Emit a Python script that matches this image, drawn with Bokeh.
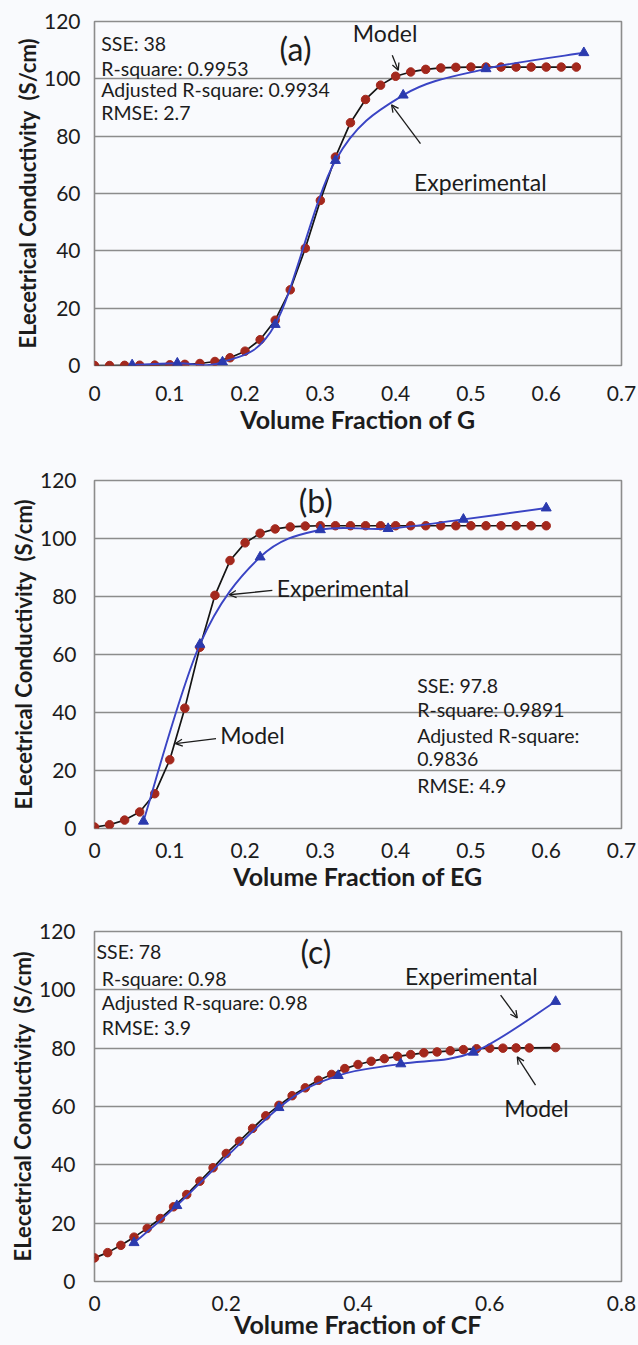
from bokeh.plotting import figure
from bokeh.layouts import column
from bokeh.models import Range1d, FixedTicker, CustomJSTickFormatter, Label, Arrow, OpenHead
from bokeh.embed import file_html
from bokeh.resources import INLINE

# ---------------- data ----------------
y_ticks = [0, 20, 40, 60, 80, 100, 120]
y_tick_labels = ["0", "20", "40", "60", "80", "100", "120"]
x_ticks_ab = [0, 0.1, 0.2, 0.3, 0.4, 0.5, 0.6, 0.7]
x_tick_labels_ab = ["0", "0.1", "0.2", "0.3", "0.4", "0.5", "0.6", "0.7"]
x_ticks_c = [0, 0.2, 0.4, 0.6, 0.8]
x_tick_labels_c = ["0", "0.2", "0.4", "0.6", "0.8"]

# panel (a)  Volume fraction of G
a_model_x = [0.00, 0.02, 0.04, 0.06, 0.08, 0.10, 0.12, 0.14, 0.16, 0.18,
             0.20, 0.22, 0.24, 0.26, 0.28, 0.30, 0.32, 0.34, 0.36, 0.38,
             0.40, 0.42, 0.44, 0.46, 0.48, 0.50, 0.52, 0.54, 0.56, 0.58,
             0.60, 0.62, 0.64]
a_model_y = [0, 0, 0.05, 0.1, 0.15, 0.25, 0.4, 0.7, 1.4, 2.7,
             5.0, 9.0, 15.8, 26.4, 40.9, 57.6, 72.7, 84.7, 92.8, 97.8,
             100.9, 102.4, 103.3, 103.8, 104.0, 104.1, 104.1, 104.1, 104.1, 104.1,
             104.1, 104.1, 104.1]
a_exp_x = [0.05, 0.11, 0.17, 0.24, 0.32, 0.41, 0.52, 0.65]
a_exp_y = [0.2, 0.8, 1.2, 14.3, 71.5, 94.3, 103.5, 109.1]

# panel (b)  Volume fraction of EG
b_model_x = [0.00, 0.02, 0.04, 0.06, 0.08, 0.10, 0.12, 0.14, 0.16, 0.18,
             0.20, 0.22, 0.24, 0.26, 0.28, 0.30, 0.32, 0.34, 0.36, 0.38,
             0.40, 0.42, 0.44, 0.46, 0.48, 0.50, 0.52, 0.54, 0.56, 0.58,
             0.60]
b_model_y = [0.5, 1.3, 2.9, 5.7, 12.0, 23.7, 41.5, 62.5, 80.4, 92.4,
             98.5, 101.8, 103.3, 104.0, 104.3, 104.4, 104.4, 104.4, 104.4, 104.4,
             104.4, 104.4, 104.4, 104.4, 104.4, 104.4, 104.4, 104.4, 104.4, 104.4,
             104.4]
b_exp_x = [0.065, 0.14, 0.22, 0.30, 0.39, 0.49, 0.60]
b_exp_y = [2.5, 63.5, 93.6, 103.0, 103.4, 106.6, 110.5]

# panel (c)  Volume fraction of CF
c_model_x = [0.00, 0.02, 0.04, 0.06, 0.08, 0.10, 0.12, 0.14, 0.16, 0.18,
             0.20, 0.22, 0.24, 0.26, 0.28, 0.30, 0.32, 0.34, 0.36, 0.38,
             0.40, 0.42, 0.44, 0.46, 0.48, 0.50, 0.52, 0.54, 0.56, 0.58,
             0.60, 0.62, 0.64, 0.66, 0.70]
c_model_y = [8.1, 9.9, 12.4, 15.2, 18.2, 21.6, 25.6, 29.8, 34.4, 39.0,
             43.9, 48.1, 52.5, 56.8, 60.4, 63.7, 66.4, 69.0, 71.0, 73.0,
             74.4, 75.5, 76.4, 77.2, 77.8, 78.4, 78.7, 79.1, 79.5, 79.8,
             80.0, 80.0, 80.1, 80.1, 80.2]
c_exp_x = [0.06, 0.125, 0.28, 0.37, 0.465, 0.575, 0.70]
c_exp_y = [13.3, 26.0, 59.6, 70.6, 74.6, 78.6, 96.0]

# ---------------- style ----------------
FONT = "Lato"
BG = "#f9fafd"
GRID = "#8c8c8c"
RED = "#a3281d"
BLUE = "#3a44c4"
TRI = "#2b3aae"
INK = "#1c1c1c"
YTITLE = "ELecetrical Conductivity\u00a0 (S/cm)"


def formatter(vals, labs):
    return CustomJSTickFormatter(args=dict(vals=vals, labs=labs), code="""
        for (let i = 0; i < vals.length; i++) {
            if (Math.abs(vals[i] - tick) < 1e-9) { return labs[i]; }
        }
        return '';
    """)


def smooth_line(p, xs, ys, color, width):
    # Excel-like smoothed line: cubic Bezier segments through the data points
    n = len(xs)
    x0, y0, x1, y1, cx0, cy0, cx1, cy1 = [], [], [], [], [], [], [], []
    for i in range(n - 1):
        im = max(i - 1, 0)
        ip = min(i + 2, n - 1)
        x0.append(xs[i]); y0.append(ys[i])
        x1.append(xs[i + 1]); y1.append(ys[i + 1])
        cx0.append(xs[i] + (xs[i + 1] - xs[im]) / 6.0)
        cy0.append(ys[i] + (ys[i + 1] - ys[im]) / 6.0)
        cx1.append(xs[i + 1] - (xs[ip] - xs[i]) / 6.0)
        cy1.append(ys[i + 1] - (ys[ip] - ys[i]) / 6.0)
    p.bezier(x0=x0, y0=y0, x1=x1, y1=y1, cx0=cx0, cy0=cy0, cx1=cx1, cy1=cy1,
             line_color=color, line_width=width)


def make_panel(height, left, right, top, bottom, xmax, xticks, xlabels, xtitle,
               xstand, xtitle_stand, ystand):
    p = figure(width=638, height=height, output_backend="svg", toolbar_location=None,
               x_range=Range1d(0, xmax), y_range=Range1d(0, 120),
               min_border_left=left, min_border_right=right,
               min_border_top=top, min_border_bottom=bottom)
    p.background_fill_color = BG
    p.border_fill_color = BG
    p.outline_line_color = GRID
    p.outline_line_width = 1.6
    p.xgrid.visible = False
    p.ygrid.grid_line_color = GRID
    p.ygrid.grid_line_width = 1.6
    p.xaxis.ticker = FixedTicker(ticks=xticks)
    p.xaxis.formatter = formatter(xticks, xlabels)
    p.yaxis.ticker = FixedTicker(ticks=y_ticks)
    p.yaxis.formatter = formatter(y_ticks, y_tick_labels)
    for ax in (p.xaxis[0], p.yaxis[0]):
        ax.axis_line_color = None
        ax.major_tick_line_color = None
        ax.minor_tick_line_color = None
        ax.major_tick_out = 0
        ax.major_tick_in = 0
        ax.major_label_text_font = FONT
        ax.major_label_text_font_size = "21px"
        ax.major_label_text_color = INK
        ax.axis_label_text_font = FONT
        ax.axis_label_text_font_style = "bold"
        ax.axis_label_text_color = INK
    p.xaxis.axis_label = xtitle
    p.xaxis.axis_label_text_font_size = "25px"
    p.xaxis.major_label_standoff = xstand
    p.xaxis.axis_label_standoff = xtitle_stand
    p.yaxis.axis_label = YTITLE
    p.yaxis.axis_label_text_font_size = "22px"
    p.yaxis.major_label_standoff = ystand
    p.yaxis.axis_label_standoff = 0
    return p


def draw_series(p, mx, my, ex, ey):
    p.line(mx, my, line_color="#151515", line_width=1.7)
    p.scatter(mx, my, marker="circle", size=8.5, fill_color=RED, line_color=RED)
    smooth_line(p, ex, ey, BLUE, 1.9)
    p.scatter(ex, ey, marker="triangle", size=10, fill_color=TRI, line_color=TRI)


def text(p, x, y, s, size="19.5px", align="left"):
    p.add_layout(Label(x=x, y=y, text=s, text_font=FONT, text_font_size=size,
                       text_align=align, text_baseline="middle", text_color=INK))


def arrow(p, x0, y0, x1, y1):
    p.add_layout(Arrow(x_start=x0, y_start=y0, x_end=x1, y_end=y1,
                       line_color=INK, line_width=1.3,
                       end=OpenHead(size=7, line_color=INK, line_width=1.3)))


# ---------- (a) ----------
pa = make_panel(445, 89, 16, 21, 80, 0.7, x_ticks_ab, x_tick_labels_ab,
                "Volume Fraction of G", 20, 0, 14)
draw_series(pa, a_model_x, a_model_y, a_exp_x, a_exp_y)
text(pa, 0.009, 112.4, "SSE: 38")
text(pa, 0.009, 103.7, "R-square: 0.9953")
text(pa, 0.009, 96.4, "Adjusted R-square: 0.9934")
text(pa, 0.009, 88.4, "RMSE: 2.7")
text(pa, 0.267, 110.6, "(a)", size="32px", align="center")
text(pa, 0.386, 116.0, "Model", size="23px", align="center")
arrow(pa, 0.3955, 108.2, 0.4035, 103.0)
text(pa, 0.5125, 63.9, "Experimental", size="23px", align="center")
arrow(pa, 0.433, 77.4, 0.3946, 90.9)

# ---------- (b) ----------
pb = make_panel(457, 93, 15, 35, 74, 0.7, x_ticks_ab, x_tick_labels_ab,
                "Volume Fraction of EG", 14, 0, 18)
draw_series(pb, b_model_x, b_model_y, b_exp_x, b_exp_y)
text(pb, 0.294, 113.1, "(b)", size="32px", align="center")
text(pb, 0.330, 83.1, "Experimental", size="23px", align="center")
arrow(pb, 0.2362, 82.1, 0.179, 80.6)
text(pb, 0.2098, 32.1, "Model", size="23px", align="center")
arrow(pb, 0.1614, 31.0, 0.1075, 29.3)
text(pb, 0.4286, 49.4, "SSE: 97.8")
text(pb, 0.4286, 41.2, "R-square: 0.9891")
text(pb, 0.4286, 32.1, "Adjusted R-square:")
text(pb, 0.4286, 23.8, "0.9836")
text(pb, 0.4286, 15.0, "RMSE: 4.9")

# ---------- (c) ----------
pc = make_panel(443, 94, 17, 29, 64, 0.8, x_ticks_c, x_tick_labels_c,
                "Volume Fraction of CF", 14, -5, 19)
draw_series(pc, c_model_x, c_model_y, c_exp_x, c_exp_y)
text(pc, 0.003, 113.3, "SSE: 78")
text(pc, 0.011, 103.9, "R-square: 0.98")
text(pc, 0.011, 95.6, "Adjusted R-square: 0.98")
text(pc, 0.011, 87.1, "RMSE: 3.9")
text(pc, 0.336, 113.3, "(c)", size="32px", align="center")
text(pc, 0.572, 104.6, "Experimental", size="23px", align="center")
arrow(pc, 0.6165, 98.2, 0.6418, 90.4)
text(pc, 0.6708, 59.5, "Model", size="23px", align="center")
arrow(pc, 0.6695, 67.3, 0.6418, 77.0)

layout = column(pa, pb, pc, spacing=0)
layout.styles = {"background-color": BG}

open("out.html", "w").write(file_html(layout, INLINE))
